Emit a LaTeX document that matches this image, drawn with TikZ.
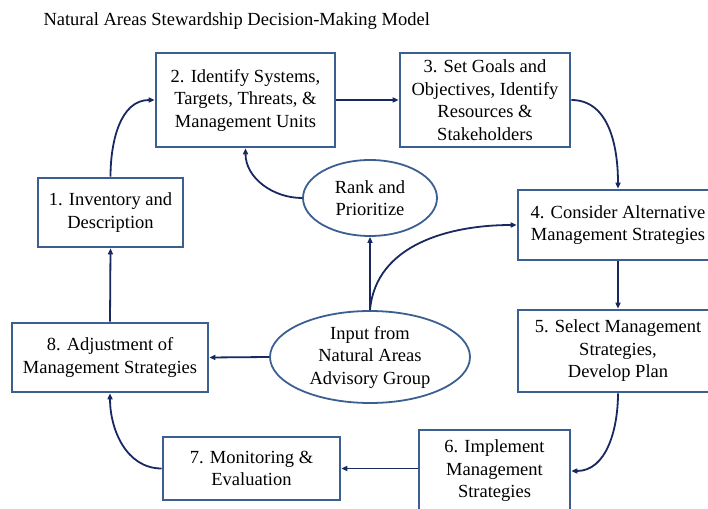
\documentclass[tikz,border=0pt]{standalone}
\usepackage{fontspec}
\setmainfont{Liberation Serif}
\usetikzlibrary{arrows.meta,shapes.geometric}

\definecolor{boxblue}{RGB}{60,95,145}
\definecolor{arrownavy}{RGB}{25,40,95}

\begin{document}
\begin{tikzpicture}[x=1pt,y=1pt,
  stagebox/.style={draw=boxblue, line width=2.6pt, fill=white, align=center,
    inner sep=0pt, font=\fontsize{18.5}{22.5}\selectfont},
  oval/.style={ellipse, draw=boxblue, line width=1.8pt, fill=white, align=center,
    inner sep=0pt, font=\fontsize{18.5}{22.5}\selectfont},
  link/.style={draw=arrownavy, line width=1.8pt, -{Triangle[length=6pt,width=5pt]}}]
\useasboundingbox (0,0) rectangle (708,508);
\clip (0,0) rectangle (708,508);
\node [anchor=base west, font=\fontsize{18.5}{20}\selectfont] (title) at (40,482)
  {Natural Areas Stewardship Decision-Making Model};
% stages round the loop
\node [stagebox, minimum width=179, minimum height=94] (b2) at (245.5,408)
  {2. Identify Systems,\\Targets, Threats, \&\\Management Units};
\node [stagebox, minimum width=170, minimum height=94] (b3) at (485,408)
  {3. Set Goals and\\Objectives, Identify\\Resources \&\\Stakeholders};
\node [stagebox, minimum width=145, minimum height=69] (b1) at (110.5,295.5)
  {1. Inventory and\\Description};
\node [stagebox, minimum width=200, minimum height=70] (b4) at (618,283)
  {4. Consider Alternative\\Management Strategies};
\node [stagebox, minimum width=200, minimum height=82] (b5) at (618,157)
  {5. Select Management\\Strategies,\\Develop Plan};
\node [stagebox, minimum width=196, minimum height=69] (b8) at (110,150.5)
  {8. Adjustment of\\Management Strategies};
\node [stagebox, minimum width=177, minimum height=63] (b7) at (251.5,39.5)
  {7. Monitoring \&\\Evaluation};
\node [stagebox, minimum width=151, minimum height=82] (b6) at (494.5,37)
  {6. Implement\\Management\\Strategies};
% advisory input in the middle
\node [oval, minimum width=134, minimum height=76] (rank) at (370,310)
  {Rank and\\Prioritize};
\node [oval, minimum width=200, minimum height=92] (input) at (370,151)
  {Input from\\Natural Areas\\Advisory Group};
% connectors
\draw [link] (b1.north) to[out=90,in=180] (b2.west);
\draw [link] (b2.east) -- (b3.west);
\draw [link] (b3.east) to[out=0,in=90] (b4.north);
\draw [link] (b4.south) -- (b5.north);
\draw [link] (b5.south) to[out=-90,in=0] (b6.east);
\draw [link] (b6.west |- b7.east) -- (b7.east);
\draw [link] (b7.west) to[out=180,in=-90] (b8.south);
\draw [link] (b8.north) -- (b1.south);
\draw [link] (rank.west) to[out=180,in=-90] (b2.south);
\draw [link] (input.north) -- (rank.south);
\draw [link] (input.north) to[out=85,in=180] (b4.west);
\draw [link] (input.west) -- (b8.east);
\end{tikzpicture}
\end{document}
